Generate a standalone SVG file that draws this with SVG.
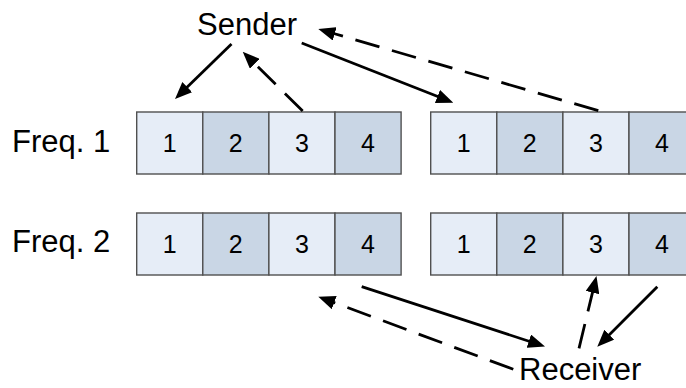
<svg xmlns="http://www.w3.org/2000/svg" width="686" height="388" viewBox="0 0 686 388">
  <style>
    .lbl { font-family: "Liberation Sans", Arial, sans-serif; font-size: 31px; fill: #000; }
    .num { font-family: "Liberation Sans", Arial, sans-serif; font-size: 25px; fill: #000; text-anchor: middle; }
    .c1 { fill: #E6EDF7; stroke: #505050; stroke-width: 1.4; }
    .c2 { fill: #C9D6E5; stroke: #505050; stroke-width: 1.4; }
    .solid { fill: none; stroke: #000; stroke-width: 2.8; marker-end: url(#head); }
    .dash { fill: none; stroke: #000; stroke-width: 2.8; stroke-dasharray: 25 13; marker-end: url(#head); }
  </style>
  <defs>
    <marker id="head" markerUnits="userSpaceOnUse" markerWidth="17" markerHeight="14" viewBox="0 0 17 14" refX="1" refY="7" orient="auto">
      <path d="M0,0 L17,7 L0,14 z" fill="#000"/>
    </marker>
    <!-- one frame of four slots -->
    <g id="frame">
      <rect class="c1" x="0" y="0" width="66.1" height="62"/>
      <rect class="c2" x="66.1" y="0" width="66.1" height="62"/>
      <rect class="c1" x="132.2" y="0" width="66.1" height="62"/>
      <rect class="c2" x="198.3" y="0" width="66.1" height="62"/>
      <text class="num" x="33" y="40">1</text>
      <text class="num" x="99.1" y="40">2</text>
      <text class="num" x="165.2" y="40">3</text>
      <text class="num" x="231.3" y="40">4</text>
    </g>
  </defs>

  <g id="sender"><text class="lbl" x="197" y="35">Sender</text></g>
  <g id="receiver"><text class="lbl" x="519" y="380">Receiver</text></g>
  <g id="freq1-label"><text class="lbl" x="12" y="152">Freq. 1</text></g>
  <g id="freq2-label"><text class="lbl" x="12" y="252">Freq. 2</text></g>

  <g id="freq1-frame-a"><use href="#frame" x="136.7" y="112"/></g>
  <g id="freq1-frame-b"><use href="#frame" x="430.7" y="112"/></g>
  <g id="freq2-frame-a"><use href="#frame" x="136.7" y="213"/></g>
  <g id="freq2-frame-b"><use href="#frame" x="430.7" y="213"/></g>

  <g id="connectors">
    <line class="solid" x1="231.5" y1="44" x2="186.5" y2="87.8"/>
    <line class="dash" x1="302.7" y1="111" x2="254.1" y2="63"/>
    <line class="solid" x1="301.7" y1="43" x2="438.4" y2="96.8"/>
    <line class="dash" x1="598.3" y1="110.7" x2="333.7" y2="33.5"/>
    <line class="solid" x1="361.7" y1="286.7" x2="529.8" y2="341.5"/>
    <line class="dash" x1="513.3" y1="369.3" x2="333.3" y2="302.3"/>
    <line class="dash" x1="579" y1="348.3" x2="592.7" y2="291.6"/>
    <line class="solid" x1="657.3" y1="286.7" x2="608.6" y2="335.4"/>
  </g>
</svg>
